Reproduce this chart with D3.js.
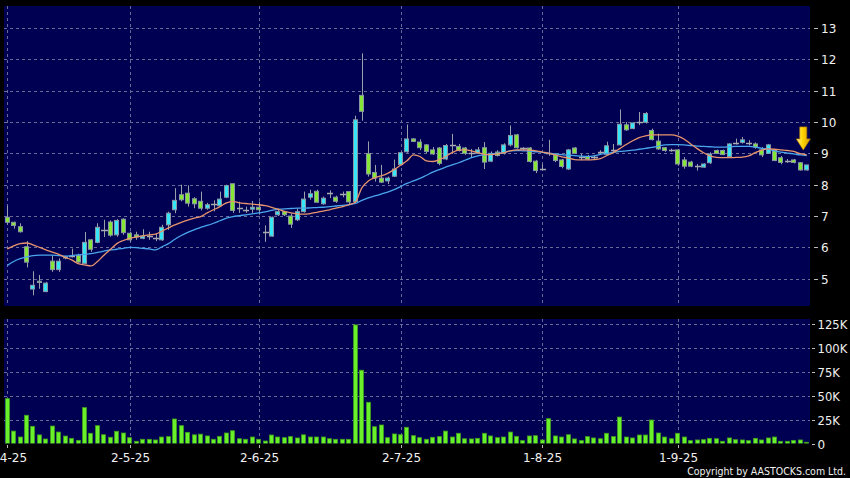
<!DOCTYPE html>
<html><head><meta charset="utf-8">
<script src="https://cdn.jsdelivr.net/npm/d3@7"></script>
<style>html,body{margin:0;padding:0;background:#000;} svg{display:block;}</style>
</head><body><div id="chart"></div>
<script>
// ---- DATA ----
const dates = [
"2025-04-01","2025-04-02","2025-04-03","2025-04-07","2025-04-08","2025-04-09","2025-04-10","2025-04-11","2025-04-14","2025-04-15",
"2025-04-16","2025-04-17","2025-04-22","2025-04-23","2025-04-24","2025-04-25","2025-04-28","2025-04-29","2025-04-30",
"2025-05-02","2025-05-06","2025-05-07","2025-05-08","2025-05-09","2025-05-12","2025-05-13","2025-05-14","2025-05-15","2025-05-16",
"2025-05-19","2025-05-20","2025-05-21","2025-05-22","2025-05-23","2025-05-26","2025-05-27","2025-05-28","2025-05-29","2025-05-30",
"2025-06-02","2025-06-03","2025-06-04","2025-06-05","2025-06-06","2025-06-09","2025-06-10","2025-06-11","2025-06-12","2025-06-13",
"2025-06-16","2025-06-17","2025-06-18","2025-06-19","2025-06-20","2025-06-23","2025-06-24","2025-06-25","2025-06-26","2025-06-27","2025-06-30",
"2025-07-02","2025-07-03","2025-07-04","2025-07-07","2025-07-08","2025-07-09","2025-07-10","2025-07-11","2025-07-14","2025-07-15",
"2025-07-16","2025-07-17","2025-07-18","2025-07-21","2025-07-22","2025-07-23","2025-07-24","2025-07-25","2025-07-28","2025-07-29","2025-07-30","2025-07-31",
"2025-08-01","2025-08-04","2025-08-05","2025-08-06","2025-08-07","2025-08-08","2025-08-11","2025-08-12","2025-08-13","2025-08-14",
"2025-08-15","2025-08-18","2025-08-19","2025-08-20","2025-08-21","2025-08-22","2025-08-25","2025-08-26","2025-08-27","2025-08-28","2025-08-29",
"2025-09-01","2025-09-02","2025-09-03","2025-09-04","2025-09-05","2025-09-08","2025-09-09","2025-09-10","2025-09-11","2025-09-12",
"2025-09-15","2025-09-16","2025-09-17","2025-09-18","2025-09-19","2025-09-22","2025-09-23","2025-09-24","2025-09-25","2025-09-26","2025-09-29","2025-09-30"
];
const open = [6.96,6.80,6.66,6.02,4.67,4.92,4.59,5.56,5.29,5.66, 5.72,5.74,5.49,6.24,6.16,6.55,6.81,6.40,6.90,6.45,
 6.40,6.29,6.37,6.29,6.24,6.72,7.20,7.68,7.73,7.55, 7.47,7.25,7.39,7.33,7.60,8.03,7.25,7.20,7.22,7.28,
 6.48,6.36,7.04,7.14,7.00,6.88,7.14,7.60,7.79,7.39, 7.73,7.60,7.71,7.78,7.46,10.85,8.99,8.39,8.21,8.12,
 8.27,8.64,9.05,9.46,9.36,9.27,9.11,9.17,8.82,9.27, 9.22,9.17,9.00,9.00,9.18,8.75,9.04,9.00,9.27,9.59,
 9.17,9.17,8.75,8.50,9.00,8.95,8.79,8.50,9.17,8.88, 8.90,8.88,9.04,8.97,9.10,9.27,9.91,9.79,10.00,9.99,
 9.73,9.39,9.18,9.11,9.11,8.79,8.72,8.59,8.56,8.70, 9.09,9.09,8.90,9.33,9.35,9.33,9.30,9.11,9.00,9.11,
 8.86,8.77,8.79,8.70,8.47];
const high = [7.33,6.82,6.77,6.20,5.24,5.12,4.90,5.75,5.65,5.74, 5.96,5.80,6.49,6.26,6.77,6.88,6.86,6.90,6.93,6.50,
 6.50,6.58,6.50,6.45,6.72,7.14,7.89,8.00,7.98,7.60, 7.78,7.42,7.50,7.78,8.00,8.03,7.46,7.30,7.48,7.46,
 6.70,6.98,7.24,7.16,7.08,7.24,7.78,7.84,7.84,7.62, 7.82,7.65,7.78,7.80,10.20,12.19,9.38,8.63,8.63,8.26,
 8.80,9.05,9.92,9.48,9.45,9.30,9.20,9.20,9.30,9.62, 9.30,9.20,9.14,9.20,9.36,9.06,9.10,9.32,9.89,9.62,
 9.20,9.20,8.79,8.66,9.43,9.00,8.82,9.14,9.20,8.98, 8.95,8.95,9.10,9.37,9.30,10.40,10.00,9.99,10.32,10.32,
 9.79,9.63,9.20,9.15,9.14,8.88,8.76,8.66,8.68,9.03, 9.12,9.12,9.32,9.47,9.52,9.42,9.35,9.20,9.30,9.13,
 8.92,8.82,8.82,8.72,8.63];
const low = [6.72,6.60,6.47,5.36,4.47,4.68,4.57,5.22,5.22,5.62, 5.68,5.51,5.47,5.86,6.13,6.33,6.34,6.34,6.40,6.18,
 6.24,6.26,6.24,6.20,6.21,6.56,7.09,7.47,7.30,7.25, 7.18,7.20,7.15,7.31,7.57,7.10,7.10,7.10,7.10,7.04,
 6.18,6.34,7.00,7.00,6.62,6.84,7.11,7.52,7.43,7.36, 7.57,7.42,7.60,7.38,7.40,10.04,8.26,8.10,8.05,8.02,
 8.25,8.62,9.02,9.36,9.10,9.00,8.95,8.62,8.78,8.98, 9.06,8.95,8.88,8.98,8.50,8.72,8.90,8.96,9.22,9.15,
 9.10,8.70,8.37,8.47,8.92,8.72,8.52,8.47,8.98,8.78, 8.78,8.80,8.96,8.95,9.00,9.25,9.72,9.77,9.90,9.95,
 9.41,9.11,9.05,9.05,8.60,8.51,8.56,8.45,8.54,8.66, 8.98,8.94,8.88,9.28,9.31,9.25,9.15,8.88,8.98,8.75,
 8.65,8.70,8.68,8.45,8.45];
const close = [6.80,6.70,6.50,5.53,4.79,4.88,4.86,5.29,5.56,5.70, 5.72,5.53,6.16,5.94,6.64,6.55,6.39,6.86,6.47,6.24,
 6.33,6.36,6.37,6.29,6.64,7.09,7.50,7.52,7.41,7.39, 7.25,7.36,7.39,7.54,7.97,7.18,7.25,7.20,7.28,7.20,
 6.48,6.96,7.14,7.04,6.74,7.14,7.54,7.71,7.44,7.57, 7.73,7.47,7.71,7.45,10.07,10.34,8.34,8.21,8.08,8.21,
 8.50,9.02,9.46,9.38,9.18,9.06,8.98,8.68,9.25,9.27, 9.09,9.00,9.00,9.11,8.72,9.00,8.93,9.27,9.57,9.18,
 9.17,8.74,8.45,8.50,9.00,8.77,8.58,9.11,9.00,8.88, 8.82,8.88,9.04,9.24,9.10,9.93,9.75,9.97,10.00,10.27,
 9.44,9.14,9.09,9.11,8.66,8.59,8.59,8.59,8.66,8.98, 9.00,8.96,9.30,9.33,9.43,9.33,9.20,8.95,9.27,8.77,
 8.71,8.77,8.71,8.47,8.63];
const volume = [47000,13000,6800,29600,18000,9000,4700,18300,12000,7800, 5400,3300,37600,10700,18700,9200,6500,12800,11000,6100,
 2300,4400,4400,3700,6800,7200,25700,18700,11700,9100, 9800,7900,4400,7500,11000,13400,5000,4400,6800,4400,
 2600,8900,6800,6100,7200,5800,9100,6800,6800,6800, 5000,4400,4400,4400,124300,76800,43200,17600,19400,6100,
 10000,9200,17000,8200,6100,4400,6500,7200,13000,6800, 10700,5000,4800,5400,10700,7900,6100,6800,12000,7500,
 3000,7900,8200,3700,26000,7900,6800,9200,4800,3000, 7200,5800,5000,10700,7200,27700,6800,5800,8900,8900,
 24600,11000,6800,5000,10700,6800,3000,3700,4000,5400, 5000,2300,5800,4000,3700,3000,5400,3700,5800,6800,
 2300,2300,3300,3700,1300];
const maShort = [5.95,6.05,6.12,6.14,6.08,6.00,5.92,5.85,5.78,5.68, 5.60,5.48,5.44,5.41,5.55,5.75,5.93,6.12,6.22,6.29,
 6.33,6.37,6.40,6.42,6.52,6.62,6.72,6.80,6.87,6.93, 6.98,7.10,7.20,7.30,7.42,7.47,7.42,7.40,7.38,7.36,
 7.33,7.28,7.22,7.15,7.10,7.07,7.06,7.08,7.12,7.16, 7.20,7.25,7.30,7.36,7.45,7.90,8.12,8.22,8.28,8.36,
 8.48,8.62,8.76,8.95,8.90,8.76,8.74,8.80,8.90,9.02, 9.10,9.11,9.08,9.02,8.97,8.96,8.98,9.02,9.08,9.11,
 9.11,9.10,9.08,9.04,9.00,8.95,8.89,8.85,8.80,8.79, 8.79,8.80,8.83,8.93,9.02,9.15,9.28,9.40,9.50,9.56,
 9.59,9.59,9.59,9.59,9.55,9.45,9.30,9.15,9.02,8.92, 8.87,8.86,8.86,8.87,8.88,8.92,9.02,9.10,9.14,9.13,
 9.11,9.09,9.06,8.99,8.95];
const maLong = [5.42,5.55,5.64,5.70,5.74,5.75,5.75,5.75,5.74,5.72, 5.74,5.76,5.78,5.80,5.84,5.88,5.92,5.94,5.97,6.00,
 5.99,5.97,5.95,5.92,6.02,6.12,6.26,6.38,6.48,6.56, 6.64,6.70,6.77,6.85,6.93,6.98,7.01,7.04,7.07,7.10,
 7.13,7.18,7.21,7.23,7.24,7.25,7.25,7.26,7.27,7.28, 7.30,7.32,7.34,7.36,7.40,7.50,7.58,7.64,7.70,7.76,
 7.84,7.94,8.04,8.12,8.20,8.30,8.40,8.48,8.56,8.63, 8.70,8.78,8.86,8.92,8.95,8.98,9.00,9.03,9.08,9.09,
 9.08,9.07,9.05,9.03,9.00,8.98,8.96,8.94,8.93,8.91, 8.90,8.92,8.97,9.00,9.03,9.06,9.08,9.10,9.13,9.16,
 9.19,9.23,9.27,9.28,9.28,9.27,9.25,9.23,9.22,9.21, 9.20,9.20,9.21,9.22,9.22,9.22,9.20,9.16,9.13,9.08,
 9.04,9.01,8.98,8.95,8.93];
const priceTicks = [5,6,7,8,9,10,11,12,13];
const volTicks = [0,25000,50000,75000,100000,125000];
const volTickLabels = ["0","25K","50K","75K","100K","125K"];
// bars on which the month gridlines sit in the picture
const xTickDates = ["2025-04-01","2025-05-02","2025-06-02","2025-07-03","2025-08-04","2025-09-02"];
const xTickLabels = ["1-4-25","2-5-25","2-6-25","2-7-25","1-8-25","1-9-25"];

// ---- LAYOUT ----
const W=850,H=478;
const L=4,R=810,pTop=6,pBot=306,vTop=319,vBot=443.5;
const FONT="'DejaVu Sans', Verdana, sans-serif";
const svg=d3.select("#chart").append("svg").attr("width",W).attr("height",H);
svg.append("rect").attr("width",W).attr("height",H).attr("fill","#000");

const x=d3.scaleBand().domain(dates).range([L,R]).paddingInner(0.2).paddingOuter(0.1);
const cx=d=>x(d)+x.bandwidth()/2;
const yP=d3.scaleLinear().domain([4.13,13.7]).range([pBot,pTop]);
const yV=d3.scaleLinear().domain([0,130500]).range([vBot,vTop]);

const NAVY="#000052", GRID="#6a6a96";
svg.append("rect").attr("x",L).attr("y",pTop).attr("width",R-L).attr("height",pBot-pTop).attr("fill",NAVY);
svg.append("rect").attr("x",L).attr("y",vTop).attr("width",R-L).attr("height",vBot-vTop).attr("fill",NAVY);

const defs=svg.append("defs");
defs.append("clipPath").attr("id","cp").append("rect").attr("x",L).attr("y",pTop).attr("width",R-L).attr("height",pBot-pTop);
defs.append("clipPath").attr("id","cv").append("rect").attr("x",L).attr("y",vTop).attr("width",R-L).attr("height",vBot-vTop);
const g=defs.append("linearGradient").attr("id","arrowGrad").attr("x1","0").attr("x2","1").attr("y1","0").attr("y2","0");
g.append("stop").attr("offset","0%").attr("stop-color","#fff0a0");
g.append("stop").attr("offset","45%").attr("stop-color","#ffd400");
g.append("stop").attr("offset","100%").attr("stop-color","#d99a00");

// grids
const grid=svg.append("g").attr("stroke",GRID).attr("stroke-width",1).attr("stroke-dasharray","3,3").attr("shape-rendering","crispEdges");
priceTicks.forEach(t=>grid.append("line").attr("x1",L).attr("x2",R).attr("y1",Math.round(yP(t))+0.5).attr("y2",Math.round(yP(t))+0.5));
volTicks.slice(1).forEach(t=>grid.append("line").attr("x1",L).attr("x2",R).attr("y1",Math.round(yV(t))+0.5).attr("y2",Math.round(yV(t))+0.5));
xTickDates.forEach(d=>{
  const xx=Math.round(cx(d))+0.5;
  grid.append("line").attr("x1",xx).attr("x2",xx).attr("y1",pTop).attr("y2",pBot);
  grid.append("line").attr("x1",xx).attr("x2",xx).attr("y1",vTop).attr("y2",vBot);
});

// candles
const idx=d3.range(dates.length);
const cg=svg.append("g").attr("clip-path","url(#cp)");
const bw=x.bandwidth();
cg.selectAll("line.wick").data(idx).join("line").attr("class","wick")
  .attr("x1",i=>Math.round(cx(dates[i]))+0.5).attr("x2",i=>Math.round(cx(dates[i]))+0.5)
  .attr("y1",i=>yP(high[i])).attr("y2",i=>yP(low[i]))
  .attr("stroke","#9aa0aa").attr("stroke-width",1);
const doji=i=>Math.abs(open[i]-close[i])<0.02;
cg.selectAll("rect.body").data(idx.filter(i=>!doji(i))).join("rect").attr("class","body")
  .attr("x",i=>Math.round(cx(dates[i])-bw/2)+0.5).attr("width",Math.round(bw)-1)
  .attr("y",i=>yP(Math.max(open[i],close[i]))).attr("height",i=>Math.max(1,yP(Math.min(open[i],close[i]))-yP(Math.max(open[i],close[i]))))
  .attr("fill",i=>close[i]>open[i]?"#36e6f6":"#86e636")
  .attr("stroke","#8a96a4").attr("stroke-width",1);
cg.selectAll("line.doji").data(idx.filter(doji)).join("line").attr("class","doji")
  .attr("x1",i=>Math.round(cx(dates[i])-bw/2)).attr("x2",i=>Math.round(cx(dates[i])+bw/2)+1)
  .attr("y1",i=>Math.round(yP(close[i]))+0.5).attr("y2",i=>Math.round(yP(close[i]))+0.5)
  .attr("stroke","#a8aab0").attr("stroke-width",1.5);

// moving averages
const lineGen=arr=>d3.line().x((v,i)=>cx(dates[i])).y(v=>yP(v)).curve(d3.curveMonotoneX)(arr);
cg.append("path").attr("d",lineGen(maLong)).attr("fill","none").attr("stroke","#4aa6ec").attr("stroke-width",1.3);
cg.append("path").attr("d",lineGen(maShort)).attr("fill","none").attr("stroke","#e8946c").attr("stroke-width",1.3);

// arrow marker at last bar
const li=dates.length-1;
const ax=cx(dates[li])-3.5, tip=yP(high[li])-15;
svg.append("path")
  .attr("d",`M${ax-3.5},${tip-23} L${ax+3.5},${tip-23} L${ax+3.5},${tip-11} L${ax+7},${tip-11} L${ax},${tip} L${ax-7},${tip-11} L${ax-3.5},${tip-11} Z`)
  .attr("fill","url(#arrowGrad)").attr("stroke","#b88000").attr("stroke-width",0.7);

// volume
const vg=svg.append("g").attr("clip-path","url(#cv)");
vg.selectAll("rect").data(idx).join("rect")
  .attr("x",i=>Math.round(cx(dates[i])-bw/2)+0.5).attr("width",Math.round(bw)-1)
  .attr("y",i=>yV(volume[i])).attr("height",i=>vBot-yV(volume[i]))
  .attr("fill","#6af02a").attr("stroke","#3f9e1c").attr("stroke-width",0.8);

// right axes
const ax2=svg.append("g");
priceTicks.forEach(t=>{
  const yy=Math.round(yP(t))+0.5;
  ax2.append("line").attr("x1",814).attr("x2",818).attr("y1",yy).attr("y2",yy).attr("stroke","#bbb");
  ax2.append("text").attr("x",821).attr("y",yy).attr("dy","0.35em").text(t);
});
volTicks.forEach((t,k)=>{
  const yy=Math.round(yV(t))+0.5;
  ax2.append("line").attr("x1",812).attr("x2",815).attr("y1",yy).attr("y2",yy).attr("stroke","#bbb");
  ax2.append("text").attr("x",817.5).attr("y",yy).attr("dy","0.35em").text(volTickLabels[k]);
});
xTickDates.forEach((d,k)=>{
  const xx=Math.round(cx(d))+0.5;
  ax2.append("line").attr("x1",xx).attr("x2",xx).attr("y1",445).attr("y2",448).attr("stroke","#bbb");
  ax2.append("text").attr("x",xx).attr("y",462).attr("text-anchor","middle").text(xTickLabels[k]);
});
ax2.selectAll("text").attr("fill","#f0f0f0").attr("font-family",FONT).attr("font-size","12px");
ax2.selectAll("text").filter(function(){return /K$/.test(this.textContent);}).attr("font-size","11.6px");

// copyright: sized so its natural width matches the picture (~159px)
const cp=svg.append("text").attr("x",846).attr("y",475).attr("text-anchor","end")
  .attr("font-family","'DejaVu Sans Condensed', 'DejaVu Sans', sans-serif").attr("font-size","12px").attr("fill","#f0f0f0")
  .text("Copyright by AASTOCKS.com Ltd.");
const w0=cp.node().getComputedTextLength();
if(w0>0) cp.attr("font-size",(12*159/w0).toFixed(2)+"px");
</script></body></html>
